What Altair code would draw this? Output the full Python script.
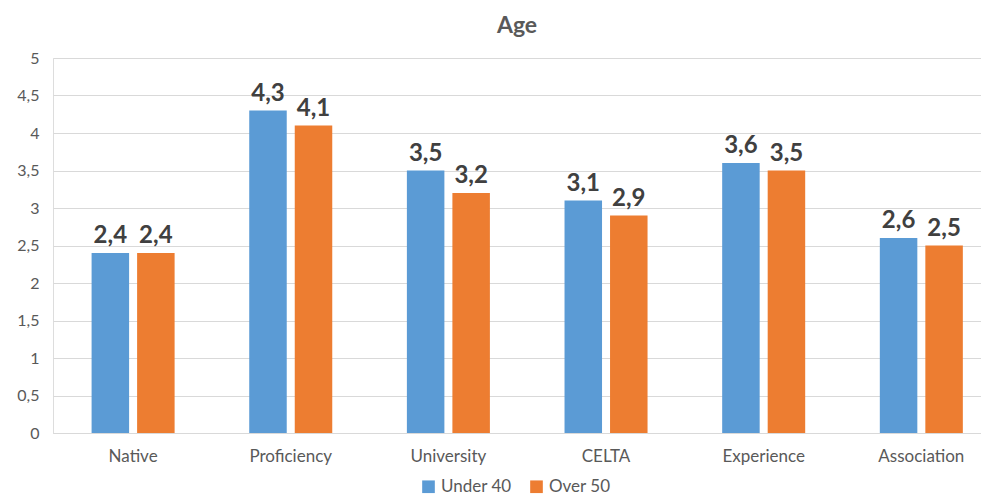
import altair as alt
import pandas as pd

categories = ["Native", "Proficiency", "University", "CELTA", "Experience", "Association"]
under40 = [2.4, 4.3, 3.5, 3.1, 3.6, 2.6]
over50 = [2.4, 4.1, 3.2, 2.9, 3.5, 2.5]
series = ["Under 40", "Over 50"]
yticks = [0, 0.5, 1, 1.5, 2, 2.5, 3, 3.5, 4, 4.5, 5]

rows = []
for c, a, b in zip(categories, under40, over50):
    rows.append({"cat": c, "series": series[0], "value": a})
    rows.append({"cat": c, "series": series[1], "value": b})
df = pd.DataFrame(rows)
df["label"] = df["value"].map(lambda v: f"{v:.1f}".replace(".", ","))

FONT = "Lato"

x = alt.X("cat:N", sort=categories, title=None,
          scale=alt.Scale(paddingInner=0.4734, paddingOuter=0.18, align=0.68),
          axis=alt.Axis(labelAngle=0, labelFont=FONT, labelFontSize=17, labelColor="#595959",
                        ticks=False, domainColor="#d9d9d9", labelPadding=15))
xo = alt.XOffset("series:N", sort=series, scale=alt.Scale(paddingInner=0.176, paddingOuter=0))
y = alt.Y("value:Q", title=None,
          scale=alt.Scale(domain=[0, 5], nice=False),
          axis=alt.Axis(values=yticks,
                        labelExpr="replace(format(datum.value, ''), '.', ',')",
                        labelFont=FONT, labelFontSize=16, labelColor="#595959",
                        labelOverlap=False,
                        ticks=False, domain=False, gridColor="#d9d9d9", labelPadding=14))
color = alt.Color("series:N", sort=series,
                  scale=alt.Scale(domain=series, range=["#5b9bd5", "#ed7d31"]),
                  legend=alt.Legend(title=None, orient="none", direction="horizontal",
                                    legendX=367, legendY=420,
                                    symbolType="square",
                                    symbolSize=160, labelFont=FONT, labelFontSize=17,
                                    labelColor="#595959", symbolOpacity=1, columnPadding=16,
                                    labelOffset=4))

base = alt.Chart(df).encode(x=x, xOffset=xo, y=y)
bars = base.mark_bar().encode(color=color)
text = base.mark_text(baseline="alphabetic", dy=-10, font=FONT, fontSize=24, fontWeight="bold",
                      color="#404040").encode(text="label:N")

chart = (bars + text).properties(
    width=928, height=375,
    autosize=alt.AutoSizeParams(type="none"),
    title=alt.TitleParams("Age", font=FONT, fontSize=23, fontWeight="bold", color="#595959",
                          offset=12),
    padding={"left": 45, "top": 50, "right": 0, "bottom": 63},
).configure_view(stroke=None).configure(background="white")

chart.save("out.html", embed_options={"renderer": "svg", "actions": False})
